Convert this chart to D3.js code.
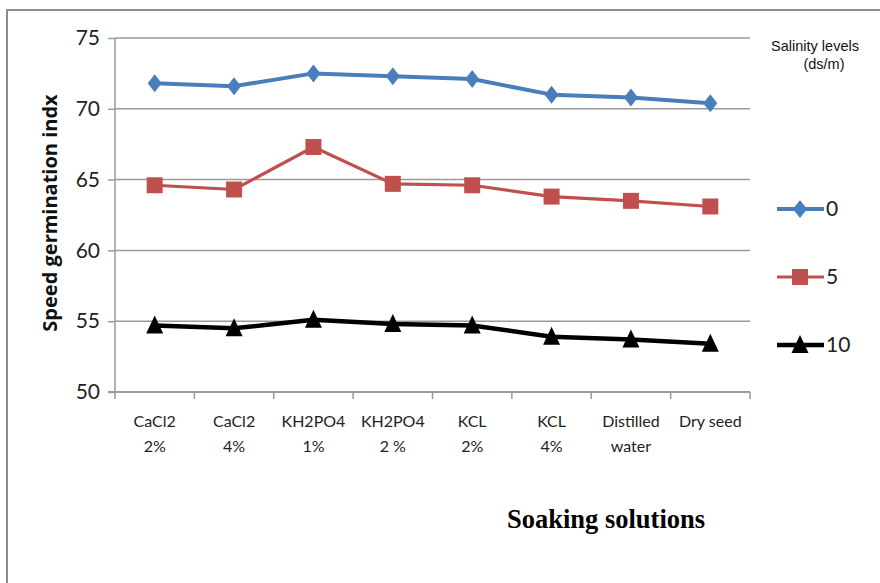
<!DOCTYPE html>
<html><head><meta charset="utf-8">
<script src="https://cdn.jsdelivr.net/npm/d3@7"></script>
<style>body{margin:0;background:#fff}svg{display:block}</style>
</head><body>
<svg id="c" width="880" height="583"></svg>
<script>
const categories = [["CaCl2","2%"],["CaCl2","4%"],["KH2PO4","1%"],["KH2PO4","2 %"],["KCL","2%"],["KCL","4%"],["Distilled","water"],["Dry seed",""]];
const level0 = [71.8, 71.6, 72.5, 72.3, 72.1, 71.0, 70.8, 70.4];
const level5 = [64.6, 64.3, 67.3, 64.7, 64.6, 63.8, 63.5, 63.1];
const level10 = [54.7, 54.5, 55.1, 54.8, 54.7, 53.9, 53.7, 53.4];
const yTicks = [50, 55, 60, 65, 70, 75];
const seriesNames = ["0", "5", "10"];

const svg = d3.select("#c");
svg.append("path").attr("d","M7,583V10H880").attr("fill","none").attr("stroke","#8c8c8c").attr("stroke-width",2);

const x = d3.scaleBand().domain(d3.range(categories.length)).range([115, 750]);
const y = d3.scaleLinear().domain([50, 75]).range([392, 38]);

svg.append("g").selectAll("line").data(yTicks.filter(d=>d>50)).join("line")
  .attr("x1",115).attr("x2",750).attr("y1",d=>y(d)).attr("y2",d=>y(d))
  .attr("stroke","#9a9a9a").attr("stroke-width",1.5);

const ya = svg.append("g").attr("transform","translate(115,0)")
  .call(d3.axisLeft(y).tickValues(yTicks).tickSize(7).tickPadding(8));
ya.select(".domain").attr("stroke","#9a9a9a").attr("stroke-width",1.5).attr("d","M0,38V392");
ya.selectAll(".tick line").attr("stroke","#9a9a9a").attr("stroke-width",1.5);
ya.selectAll("text").attr("font-family","Lato, sans-serif").attr("font-size",21).attr("fill","#222");

const xa = svg.append("g").attr("transform","translate(0,392)");
xa.append("line").attr("x1",108).attr("x2",750).attr("y1",0).attr("y2",0).attr("stroke","#9a9a9a").attr("stroke-width",2);
xa.selectAll("line.t").data(d3.range(categories.length+1)).join("line").attr("class","t")
  .attr("x1",d=>115+d*x.step()).attr("x2",d=>115+d*x.step()).attr("y1",0).attr("y2",7)
  .attr("stroke","#9a9a9a").attr("stroke-width",1.5);
const xl = xa.selectAll("text").data(categories).join("text")
  .attr("x",(d,i)=>x(i)+x.bandwidth()/2).attr("text-anchor","middle")
  .attr("font-family","Lato, sans-serif").attr("font-size",16).attr("fill","#222");
xl.append("tspan").attr("x",(d,i)=>x(i)+x.bandwidth()/2).attr("y",35).text(d=>d[0]);
xl.append("tspan").attr("x",(d,i)=>x(i)+x.bandwidth()/2).attr("y",60).text(d=>d[1]);

svg.append("text").attr("transform","translate(57,213) rotate(-90)").attr("text-anchor","middle")
  .attr("font-family","'Open Sans', sans-serif").attr("font-weight","bold").attr("font-size",20).attr("fill","#111")
  .text("Speed germination indx");

svg.append("text").attr("x",606).attr("y",528).attr("text-anchor","middle")
  .attr("font-family","'Liberation Serif', serif").attr("font-weight","bold").attr("font-size",26.5).attr("fill","#000")
  .text("Soaking solutions");

const series = [
  {name:seriesNames[0], vals:level0, color:"#4a7ebb", width:4, shape:"diamond"},
  {name:seriesNames[1], vals:level5, color:"#c0504d", width:3.2, shape:"square"},
  {name:seriesNames[2], vals:level10, color:"#000000", width:4.5, shape:"triangle"}
];
function marker(g, shape, cx, cy, color){
  if(shape==="diamond"){
    g.append("path").attr("d",`M${cx},${cy-9}L${cx+7},${cy}L${cx},${cy+9}L${cx-7},${cy}Z`).attr("fill",color);
  } else if(shape==="square"){
    g.append("rect").attr("x",cx-8).attr("y",cy-8).attr("width",16).attr("height",16).attr("fill",color);
  } else {
    g.append("path").attr("d",`M${cx},${cy-10}L${cx+8.5},${cy+8}L${cx-8.5},${cy+8}Z`).attr("fill",color);
  }
}
const line = d3.line().x((d,i)=>x(i)+x.bandwidth()/2).y(d=>y(d));
series.forEach(s=>{
  const g = svg.append("g");
  g.append("path").attr("d",line(s.vals)).attr("fill","none").attr("stroke",s.color).attr("stroke-width",s.width).attr("stroke-linejoin","round");
  s.vals.forEach((v,i)=>marker(g, s.shape, x(i)+x.bandwidth()/2, y(v), s.color));
});

const lg = svg.append("g");
lg.append("text").attr("x",815).attr("y",51).attr("text-anchor","middle")
  .attr("font-family","'Liberation Sans', Arial, sans-serif").attr("font-size",14.5).attr("fill","#111").text("Salinity levels");
lg.append("text").attr("x",824).attr("y",69).attr("text-anchor","middle")
  .attr("font-family","'Liberation Sans', Arial, sans-serif").attr("font-size",14.5).attr("fill","#111").text("(ds/m)");
const legY = [209, 277, 345];
series.forEach((s,i)=>{
  const g = lg.append("g");
  g.append("line").attr("x1",777).attr("x2",824).attr("y1",legY[i]).attr("y2",legY[i]).attr("stroke",s.color).attr("stroke-width",s.width);
  marker(g, s.shape, 800, legY[i], s.color);
  g.append("text").attr("x",826).attr("y",legY[i]+7).attr("font-family","Lato, sans-serif").attr("font-size",21).attr("fill","#222").text(s.name);
});
</script>
</body></html>
